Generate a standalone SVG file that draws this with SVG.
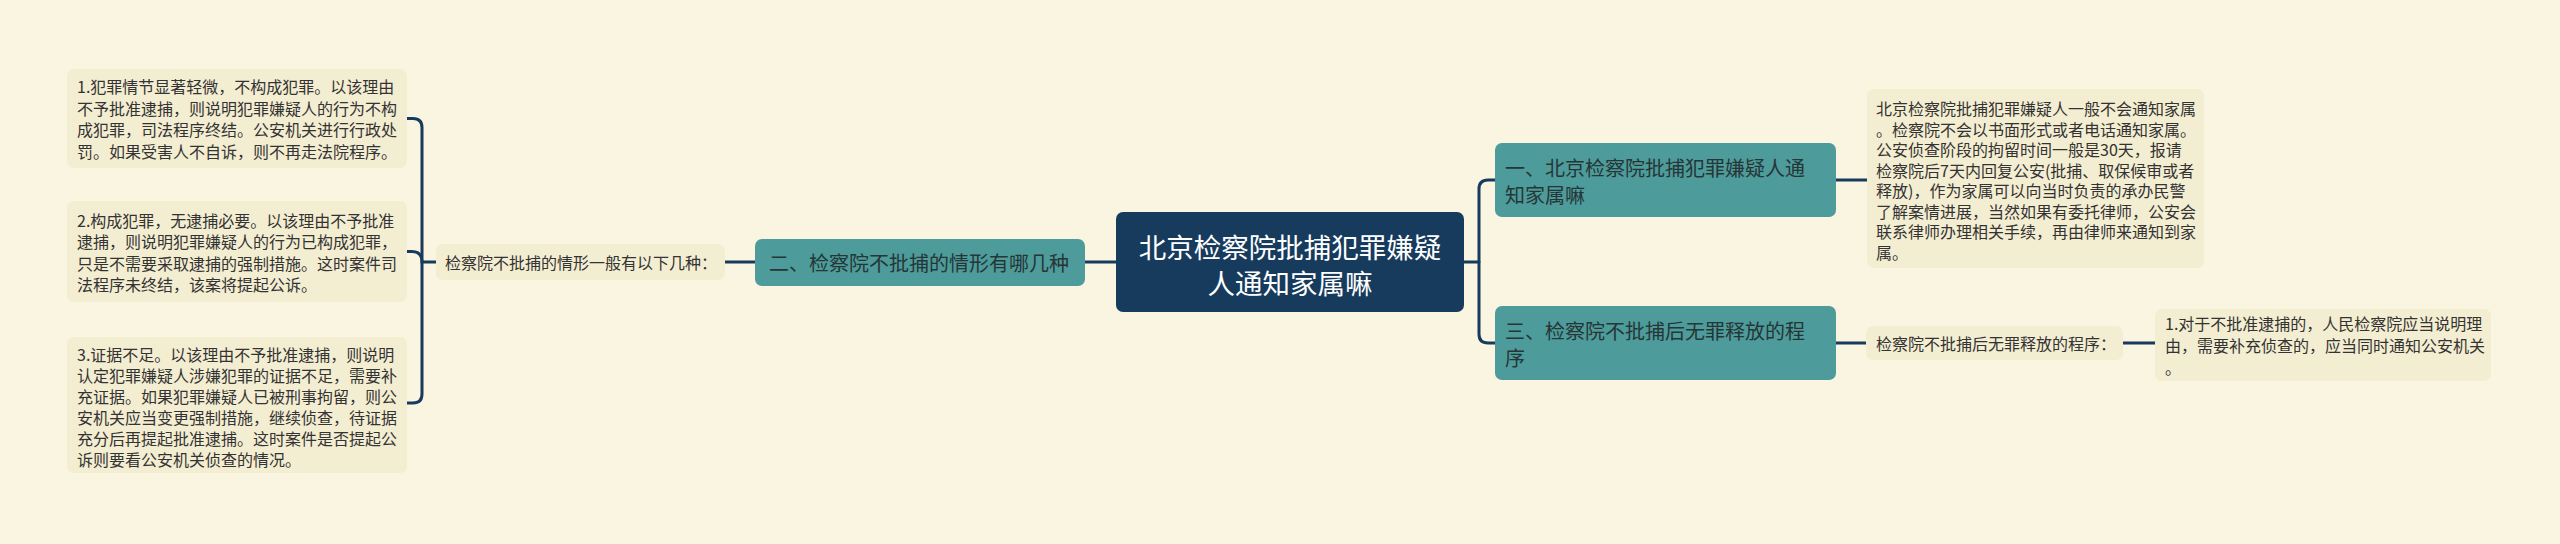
<svg xmlns="http://www.w3.org/2000/svg" width="2560" height="544" viewBox="0 0 2560 544">
<style>
text{font-family:"Noto Sans CJK SC","Noto Sans",sans-serif;dominant-baseline:central}
.bg{fill:#FAF5E1}
.box{fill:#F3EDD1}
.t16{font-size:16px;fill:#333333}
.teal{fill:#4D9B9B}
.t20{font-size:20px;fill:#263636}
.root{fill:#173B5D}
.t28{font-size:27.5px;fill:#FFFFFF}
.con{fill:none;stroke:#173B5D;stroke-width:3;stroke-linecap:round}
</style>
<rect class="bg" x="0" y="0" width="2560" height="544"/>
<g id="connectors">
<path class="con" d="M407,118.5 H413 Q422,118.5 422,127.5 V394 Q422,403 413,403 H407"/>
<path class="con" d="M407,251.5 H412 Q422,251.5 422,262 H436"/>
<path class="con" d="M725,262 H755"/>
<path class="con" d="M1085,262 H1116"/>
<path class="con" d="M1464,262 H1479"/>
<path class="con" d="M1495,180 H1488 Q1479,180 1479,189 V334 Q1479,343 1488,343 H1495"/>
<path class="con" d="M1836,180 H1867"/>
<path class="con" d="M1836,343 H1866"/>
<path class="con" d="M2123,343 H2155"/>
</g>
<g id="left1">
<rect class="box" x="67" y="69" width="340" height="99" rx="7"/>
<text class="t16" x="77" y="86">1.犯罪情节显著轻微，不构成犯罪。以该理由</text>
<text class="t16" x="77" y="107.5">不予批准逮捕，则说明犯罪嫌疑人的行为不构</text>
<text class="t16" x="77" y="129">成犯罪，司法程序终结。公安机关进行行政处</text>
<text class="t16" x="77" y="150.5">罚。如果受害人不自诉，则不再走法院程序。</text>
</g>
<g id="left2">
<rect class="box" x="67" y="201" width="340" height="101" rx="7"/>
<text class="t16" x="77" y="219.5">2.构成犯罪，无逮捕必要。以该理由不予批准</text>
<text class="t16" x="77" y="241">逮捕，则说明犯罪嫌疑人的行为已构成犯罪，</text>
<text class="t16" x="77" y="262.5">只是不需要采取逮捕的强制措施。这时案件司</text>
<text class="t16" x="77" y="284">法程序未终结，该案将提起公诉。</text>
</g>
<g id="left3">
<rect class="box" x="67" y="337" width="340" height="136" rx="7"/>
<text class="t16" x="77" y="354">3.证据不足。以该理由不予批准逮捕，则说明</text>
<text class="t16" x="77" y="375">认定犯罪嫌疑人涉嫌犯罪的证据不足，需要补</text>
<text class="t16" x="77" y="396">充证据。如果犯罪嫌疑人已被刑事拘留，则公</text>
<text class="t16" x="77" y="417">安机关应当变更强制措施，继续侦查，待证据</text>
<text class="t16" x="77" y="438">充分后再提起批准逮捕。这时案件是否提起公</text>
<text class="t16" x="77" y="459">诉则要看公安机关侦查的情况。</text>
</g>
<g id="mid-left">
<rect class="box" x="436" y="244" width="289" height="36" rx="7"/>
<text class="t16" x="445" y="262">检察院不批捕的情形一般有以下几种：</text>
</g>
<g id="branch2">
<rect class="teal" x="755" y="239" width="330" height="47" rx="7"/>
<text class="t20" x="769" y="262">二、检察院不批捕的情形有哪几种</text>
</g>
<g id="root">
<rect class="root" x="1116" y="212" width="348" height="100" rx="7"/>
<text class="t28" x="1290" y="246" text-anchor="middle">北京检察院批捕犯罪嫌疑</text>
<text class="t28" x="1290" y="282" text-anchor="middle">人通知家属嘛</text>
</g>
<g id="branch1">
<rect class="teal" x="1495" y="143" width="341" height="74" rx="7"/>
<text class="t20" x="1505" y="167">一、北京检察院批捕犯罪嫌疑人通</text>
<text class="t20" x="1505" y="194">知家属嘛</text>
</g>
<g id="branch3">
<rect class="teal" x="1495" y="306" width="341" height="74" rx="7"/>
<text class="t20" x="1505" y="330">三、检察院不批捕后无罪释放的程</text>
<text class="t20" x="1505" y="357">序</text>
</g>
<g id="right1">
<rect class="box" x="1867" y="89" width="337" height="179" rx="7"/>
<text class="t16" x="1876" y="108">北京检察院批捕犯罪嫌疑人一般不会通知家属</text>
<text class="t16" x="1876" y="128.5">。检察院不会以书面形式或者电话通知家属。</text>
<text class="t16" x="1876" y="149">公安侦查阶段的拘留时间一般是30天，报请</text>
<text class="t16" x="1876" y="169.5">检察院后7天内回复公安(批捕、取保候审或者</text>
<text class="t16" x="1876" y="190">释放)，作为家属可以向当时负责的承办民警</text>
<text class="t16" x="1876" y="210.5">了解案情进展，当然如果有委托律师，公安会</text>
<text class="t16" x="1876" y="231">联系律师办理相关手续，再由律师来通知到家</text>
<text class="t16" x="1876" y="251.5">属。</text>
</g>
<g id="right3">
<rect class="box" x="1866" y="326" width="257" height="34" rx="7"/>
<text class="t16" x="1876" y="343">检察院不批捕后无罪释放的程序：</text>
</g>
<g id="right3-detail">
<rect class="box" x="2155" y="309" width="336" height="72" rx="7"/>
<text class="t16" x="2165" y="323">1.对于不批准逮捕的，人民检察院应当说明理</text>
<text class="t16" x="2165" y="345">由，需要补充侦查的，应当同时通知公安机关</text>
<text class="t16" x="2165" y="367">。</text>
</g>
</svg>
